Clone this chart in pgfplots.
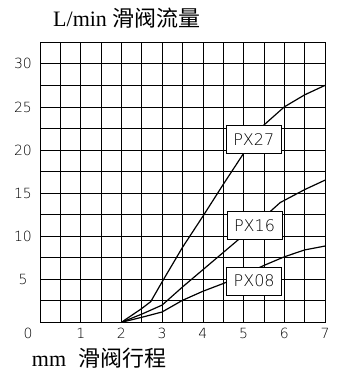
\documentclass[border=0pt]{standalone}
\usepackage{fontspec}
\setmainfont{Liberation Serif}
\newfontfamily\cjk{Noto Sans CJK SC}
\newfontfamily\cad{DejaVu Sans ExtraLight}
\usepackage{pgfplots}
\pgfplotsset{compat=1.18}
\begin{document}
\begin{tikzpicture}
\path[use as bounding box] (-40pt,-50.7pt) rectangle (297pt,322.3pt);
\begin{axis}[
  at={(0pt,0pt)}, anchor=south west,
  scale only axis, width=285pt, height=280pt,
  xmin=0, xmax=7, ymin=0, ymax=32.5,
  clip=false,
  xtick={1,...,7}, ytick={5,10,...,30},
  minor xtick={0.5,1.5,...,6.5}, minor ytick={2.5,7.5,...,32.5},
  grid=both,
  grid style={black, line width=0.7pt},
  minor grid style={black, line width=0.7pt},
  major tick length=0pt, minor tick length=0pt,
  axis line style={black, line width=0.8pt},
  tick label style={font=\cad\fontsize{14}{14}\selectfont},
  /pgf/number format/assume math mode=true,
  xticklabel style={anchor=center, yshift=-11pt},
  yticklabel style={anchor=center, xshift=-17pt},
]
\addplot[black, line width=1.2pt] coordinates {
 (2,0) (2.5,1.6) (2.72,2.4) (3,4.7) (3.5,8.7) (4,12.3) (4.5,16.0) (5,19.6) (5.5,22.9) (6,25.0) (6.5,26.4) (7,27.5)};
\addplot[black, line width=1.2pt] coordinates {
 (2,0) (2.5,0.95) (3,2.0) (3.5,4.1) (4,6.1) (4.5,8.1) (5,10.1) (5.5,12.2) (5.9,13.9) (6.5,15.4) (7,16.5)};
\addplot[black, line width=1.2pt] coordinates {
 (2,0) (2.5,0.58) (3,1.2) (3.5,2.55) (4,3.6) (4.5,4.5) (5,5.5) (5.5,6.6) (6,7.6) (6.5,8.4) (7,8.85)};
\node[draw=black, line width=0.8pt, fill=white, minimum width=55pt, minimum height=28pt, inner sep=0pt, font=\cad\fontsize{16}{16}\selectfont] at (axis cs:5.25,21.2) {PX27};
\node[draw=black, line width=0.8pt, fill=white, minimum width=55pt, minimum height=28pt, inner sep=0pt, font=\cad\fontsize{16}{16}\selectfont] at (axis cs:5.27,11.2) {PX16};
\node[draw=black, line width=0.8pt, fill=white, minimum width=55pt, minimum height=28pt, inner sep=0pt, font=\cad\fontsize{16}{16}\selectfont] at (axis cs:5.26,4.8) {PX08};
\node[font=\cad\fontsize{14}{14}\selectfont] at ([xshift=-12pt,yshift=-11pt]rel axis cs:0,0) {0};
\node[anchor=base west, inner sep=0pt, font=\fontsize{22}{22}\selectfont] at ([xshift=13pt,yshift=15.3pt]rel axis cs:0,1) {L/min {\cjk 滑阀流量}};
\node[anchor=base west, inner sep=0pt, font=\fontsize{22}{22}\selectfont] at ([xshift=-8.3pt,yshift=-44pt]rel axis cs:0,0) {mm\hspace{12pt}{\cjk 滑阀行程}};
\end{axis}
\end{tikzpicture}
\end{document}
